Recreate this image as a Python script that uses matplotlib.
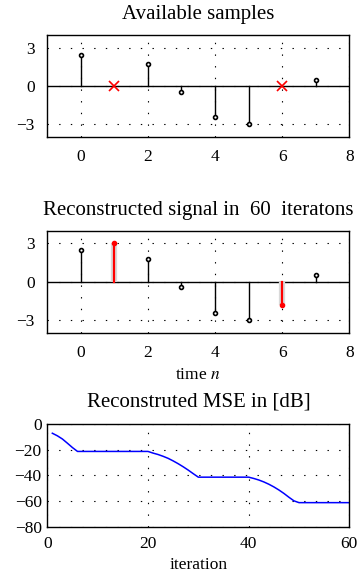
import matplotlib
matplotlib.use("Agg")
import matplotlib.pyplot as plt
import numpy as np

plt.rcParams['font.family'] = ['Liberation Serif', 'DejaVu Serif']
plt.rcParams['mathtext.fontset'] = 'stix'
plt.rcParams['font.size'] = 12.5
plt.rcParams['lines.scale_dashes'] = False

# signal samples, missing positions and their reconstruction
n = [0, 1, 2, 3, 4, 5, 6, 7]
x_avail = [2.45, None, 1.75, -0.45, -2.45, -3.0, None, 0.5]
missing_n = [1, 6]
x_rec_missing = [3.0, -1.8]

# MSE per iteration in dB
iters = list(range(1, 61))
mse_db = ([-7.0, -9.0, -11.5, -14.8, -18.2, -21.2] + [-21.2] * 14 +
          [-22.5, -23.6, -25.0, -26.6, -28.6, -30.8, -33.2, -35.8, -38.6, -41.3] +
          [-41.3] * 10 +
          [-42.3, -43.5, -45.0, -46.8, -48.9, -51.3, -54.0, -57.0, -59.8, -61.2] +
          [-61.2] * 10)

grid_style = dict(color='black', linestyle=(0, (1, 7.4)), linewidth=0.8)


def style_axes(ax):
    for s in ax.spines.values():
        s.set_linewidth(1.0)
    ax.tick_params(length=0, pad=9)
    ax.grid(True, **grid_style)
    ax.set_axisbelow(True)


def stem_signal(ax, values):
    ax.axhline(0, color='black', lw=1.0, zorder=2)
    for k, v in zip(n, values):
        if v is None:
            continue
        ax.plot([k, k], [0, v], color='black', lw=1.0, zorder=3)
        ax.plot(k, v, 'o', ms=2.8, mfc='white', mec='black', mew=1.2, zorder=4)
    ax.set_xlim(-1, 8)
    ax.set_ylim(-4, 4)
    ax.set_xticks([0, 2, 4, 6, 8])
    ax.set_yticks([-3, 0, 3])
    ax.set_yticklabels(['\u22123', '0', '3'])


fig = plt.figure(figsize=(3.6, 5.87), dpi=100)
ax1 = fig.add_axes([0.1306, 0.7671, 0.840, 0.1728])
ax2 = fig.add_axes([0.1306, 0.4332, 0.840, 0.1738])
ax3 = fig.add_axes([0.1314, 0.1027, 0.839, 0.1745])

# available samples, missing ones marked with x
stem_signal(ax1, x_avail)
ax1.plot(missing_n, [0] * len(missing_n), 'x', color='red', ms=7, mew=1.2, zorder=5)
style_axes(ax1)
ax1.set_title('Available samples', pad=11.5)

# reconstructed signal
stem_signal(ax2, x_avail)
for k, v in zip(missing_n, x_rec_missing):
    ax2.plot([k, k], [0, v], color='#d9d9d9', lw=4.5, solid_capstyle='butt', zorder=2.5)
    ax2.plot([k, k], [0, v], color='red', lw=1.6, zorder=3)
    ax2.plot(k, v, 'o', ms=3.0, mfc='red', mec='red', zorder=4)
style_axes(ax2)
ax2.set_title('Reconstructed signal in  60  iteratons', pad=11.5)
ax2.set_xlabel('time $n$', labelpad=4)

# MSE curve
ax3.plot(iters, mse_db, color='blue', lw=1.1)
ax3.set_xlim(0, 60)
ax3.set_ylim(-80, 0)
ax3.set_xticks([0, 20, 40, 60])
ax3.set_yticks([-80, -60, -40, -20, 0])
ax3.set_yticklabels(['\u221280', '\u221260', '\u221240', '\u221220', '0'])
style_axes(ax3)
ax3.tick_params(axis='y', pad=4)
ax3.tick_params(axis='x', pad=7)
ax3.set_title('Reconstruted MSE in [dB]', pad=12.5)
ax3.set_xlabel('iteration', labelpad=3)

fig.savefig('out.png', dpi=100)
